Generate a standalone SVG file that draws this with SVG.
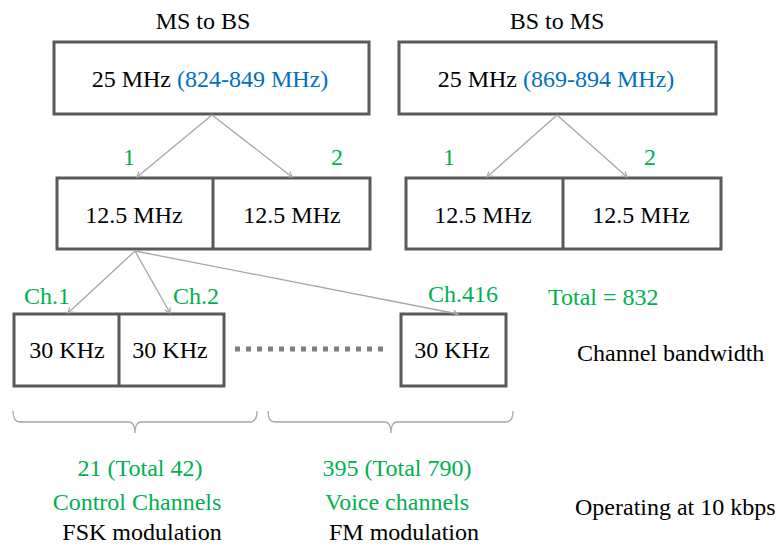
<svg xmlns="http://www.w3.org/2000/svg" width="777" height="546" viewBox="0 0 777 546">
  <defs>
    <marker id="chev" markerUnits="userSpaceOnUse" markerWidth="8" markerHeight="8" refX="6" refY="3.5" orient="auto">
      <path d="M1,0.5 L6,3.5 L1,6.5" fill="none" stroke="#a6a6a6" stroke-width="1.2"/>
    </marker>
  </defs>
  <style>
    text { font-family: "Liberation Serif", "Times New Roman", serif; font-size: 24px; fill: #000; }
    .c { text-anchor: middle; }
    .g { fill: #00b050; }
    .b { fill: #0070c0; }
    .box { fill: #fff; stroke: #595959; stroke-width: 3; }
    .div { stroke: #595959; stroke-width: 3; }
    .link { fill: none; stroke: #a6a6a6; stroke-width: 1.3; marker-end: url(#chev); }
    .brace { fill: none; stroke: #a6a6a6; stroke-width: 1.3; }
  </style>
  <rect width="777" height="546" fill="#fff"/>

  <!-- headings -->
  <text class="c" x="203" y="29">MS to BS</text>
  <text class="c" x="557" y="29">BS to MS</text>

  <!-- uplink band -->
  <g id="uplink-band">
    <rect class="box" x="54" y="42" width="315" height="72"/>
    <text class="c" x="210" y="87">25 MHz <tspan class="b">(824-849 MHz)</tspan></text>
  </g>

  <!-- downlink band -->
  <g id="downlink-band">
    <rect class="box" x="399" y="42" width="317" height="72"/>
    <text class="c" x="556" y="87">25 MHz <tspan class="b">(869-894 MHz)</tspan></text>
  </g>

  <!-- uplink halves -->
  <g id="uplink-halves">
    <rect class="box" x="57" y="178" width="313" height="71"/>
    <line class="div" x1="213" y1="178" x2="213" y2="249"/>
    <text class="c" x="134" y="223">12.5 MHz</text>
    <text class="c" x="292" y="223">12.5 MHz</text>
  </g>

  <!-- downlink halves -->
  <g id="downlink-halves">
    <rect class="box" x="406" y="178" width="315" height="71"/>
    <line class="div" x1="563" y1="178" x2="563" y2="249"/>
    <text class="c" x="483" y="223">12.5 MHz</text>
    <text class="c" x="641" y="223">12.5 MHz</text>
  </g>

  <!-- 30 kHz channels -->
  <g id="channels-1-2">
    <rect class="box" x="14" y="314" width="210" height="72"/>
    <line class="div" x1="119" y1="314" x2="119" y2="386"/>
    <text class="c" x="67" y="358">30 KHz</text>
    <text class="c" x="170" y="358">30 KHz</text>
  </g>
  <g id="channel-416">
    <rect class="box" x="401" y="314" width="105" height="72"/>
    <text class="c" x="452" y="358">30 KHz</text>
  </g>
  <line x1="235" y1="349" x2="383" y2="349" stroke="#7f7f7f" stroke-width="5" stroke-dasharray="5 6"/>

  <!-- connectors -->
  <g id="connectors">
    <line class="link" x1="212" y1="115" x2="137" y2="177"/>
    <line class="link" x1="212" y1="115" x2="292" y2="177"/>
    <line class="link" x1="557" y1="115" x2="487" y2="177"/>
    <line class="link" x1="557" y1="115" x2="627" y2="177"/>
    <line class="link" x1="135" y1="251" x2="68" y2="313"/>
    <line class="link" x1="135" y1="251" x2="170" y2="313"/>
    <line class="link" x1="135" y1="251" x2="458" y2="314"/>
  </g>

  <!-- split labels -->
  <text class="g" x="123" y="165">1</text>
  <text class="g" x="331" y="165">2</text>
  <text class="g" x="443" y="165">1</text>
  <text class="g" x="644" y="165">2</text>
  <text class="g" x="24" y="304">Ch.1</text>
  <text class="g" x="173" y="304">Ch.2</text>
  <text class="g" x="428" y="302">Ch.416</text>
  <text class="g" x="548" y="305">Total = 832</text>
  <text x="577" y="361">Channel bandwidth</text>

  <!-- groupings -->
  <path class="brace" d="M13,411 Q13,422 20,422 L129,422 Q135,422 135,433 Q135,422 141,422 L250,422 Q257,422 257,411"/>
  <path class="brace" d="M268,411 Q268,422 275,422 L385,422 Q391,422 391,433 Q391,422 397,422 L506,422 Q513,422 513,411"/>

  <text class="c g" x="140" y="476">21 (Total 42)</text>
  <text class="c g" x="137" y="510">Control Channels</text>
  <text class="c" x="142" y="540">FSK modulation</text>
  <text class="c g" x="397" y="476">395 (Total 790)</text>
  <text class="c g" x="397" y="510">Voice channels</text>
  <text class="c" x="404" y="540">FM modulation</text>
  <text x="575" y="515">Operating at 10 kbps</text>
</svg>
